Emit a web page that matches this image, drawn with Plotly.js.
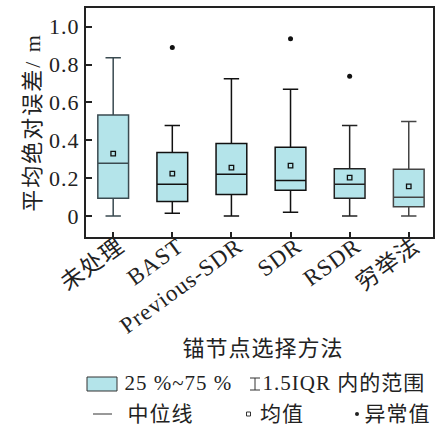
<!DOCTYPE html>
<html><head><meta charset="utf-8">
<script src="https://cdn.plot.ly/plotly-3.0.1.min.js"></script>
<style>
html,body{margin:0;padding:0;background:#fff}
#chart svg text{letter-spacing:1px}
#chart .g-ytitle text{letter-spacing:2px}
</style>
</head><body><div id="chart" style="width:435px;height:425px"></div>
<script>
const categories = ["未处理","BAST","Previous-SDR","SDR","RSDR","穷举法"];
const lowerWhisker = [0.0, 0.014, 0.0, 0.02, 0.0, 0.0];
const q1Values = [0.094, 0.076, 0.113, 0.136, 0.094, 0.049];
const medianValues = [0.279, 0.168, 0.221, 0.187, 0.168, 0.099];
const q3Values = [0.533, 0.335, 0.383, 0.363, 0.25, 0.247];
const upperWhisker = [0.836, 0.478, 0.725, 0.670, 0.478, 0.499];
const meanValues = [0.33, 0.224, 0.256, 0.266, 0.203, 0.157];
const outlierCats = ["BAST","SDR","RSDR"];
const outlierValues = [0.89, 0.937, 0.739];
const lineColors = ["#3a4a50","#111","#111","#111","#222","#444"];
const yTickVals = [0, 0.2, 0.4, 0.6, 0.8, 1.0];
const yTickText = ["0","0.2","0.4","0.6","0.8","1.0"];
const xTitle = "锚节点选择方法";

const SERIF = "'Liberation Serif', 'Noto Sans CJK SC', serif";
const W = 435, H = 425, ML = 86, MR = 2, MT = 8, MB = 188;
const PW = W - ML - MR, PH = H - MT - MB;
const px = x => (x - ML) / PW;
const py = y => (H - MB - y) / PH;

const traces = categories.map((c, i) => ({
  type: "box", x: [c], q1: [q1Values[i]], median: [medianValues[i]], q3: [q3Values[i]],
  lowerfence: [lowerWhisker[i]], upperfence: [upperWhisker[i]],
  fillcolor: "#b4e4ea", line: {color: lineColors[i], width: 1.5},
  width: 0.52, whiskerwidth: 0.5, showlegend: false, hoverinfo: "skip"
}));
traces.push({type: "scatter", mode: "markers", x: categories, y: meanValues,
  marker: {symbol: "square-open", size: 4.5, color: "#111", line: {width: 1.3}}, showlegend: false});
traces.push({type: "scatter", mode: "markers", x: outlierCats, y: outlierValues,
  marker: {symbol: "circle", size: 5, color: "#111"}, showlegend: false});

const ann = [];
const shapes = [];
function txt(t, x, y, size, anchor) {
  ann.push({text: t, xref: "paper", yref: "paper", x: px(x), y: py(y), xanchor: anchor || "left",
    yanchor: "middle", showarrow: false, font: {family: SERIF, size: size || 21, color: "#222"}});
}
function ln(x0, y0, x1, y1) {
  shapes.push({type: "line", xref: "paper", yref: "paper", x0: px(x0), x1: px(x1), y0: py(y0), y1: py(y1),
    line: {color: "#333", width: 1}});
}
// x axis title
txt(xTitle, 263, 348, 22, "center");
// legend row 1
shapes.push({type: "rect", xref: "paper", yref: "paper", x0: px(87), x1: px(117), y0: py(391), y1: py(377),
  fillcolor: "#b4e4ea", line: {color: "#333", width: 1}});
txt("25 %~75 %", 127, 383);
ln(250, 378, 260, 378); ln(250, 390, 260, 390); ln(255, 378, 255, 390);
txt("1.5IQR 内的范围", 266, 383);
// legend row 2
ln(93, 414, 112, 414);
txt("中位线", 127, 414);
shapes.push({type: "rect", xref: "paper", yref: "paper", x0: px(246.5), x1: px(250.5), y0: py(416), y1: py(412), line: {color: "#333", width: 1}});
txt("均值", 259, 414);
shapes.push({type: "circle", xref: "paper", yref: "paper", x0: px(355), x1: px(359), y0: py(416), y1: py(412), fillcolor: "#222", line: {color: "#222", width: 0}});
txt("异常值", 364, 414);

const layout = {
  width: W, height: H, margin: {l: ML, r: MR, t: MT, b: MB},
  paper_bgcolor: "#fff", plot_bgcolor: "#fff", showlegend: false,
  font: {family: SERIF, color: "#222"},
  xaxis: {type: "category", range: [-0.46, 5.41], showline: true, mirror: true, linecolor: "#222", linewidth: 2,
    ticks: "inside", ticklen: 5, tickcolor: "#222", tickwidth: 2, tickangle: -36,
    ticklabelstandoff: -15, ticklabelshift: 6,
    tickfont: {family: SERIF, size: 23, color: "#222"}, showgrid: false, zeroline: false},
  yaxis: {range: [-0.111, 1.099], showline: true, mirror: true, linecolor: "#222", linewidth: 2,
    ticks: "inside", ticklen: 6, tickcolor: "#222", tickwidth: 2,
    tickvals: yTickVals, ticktext: yTickText, tickfont: {family: SERIF, size: 22, color: "#222"},
    showgrid: false, zeroline: false,
    title: {text: "平均绝对误差/ m", font: {family: SERIF, size: 22, color: "#222"}, standoff: 5}},
  annotations: ann, shapes: shapes
};
Plotly.newPlot("chart", traces, layout, {displayModeBar: false, staticPlot: true});
</script></body></html>
